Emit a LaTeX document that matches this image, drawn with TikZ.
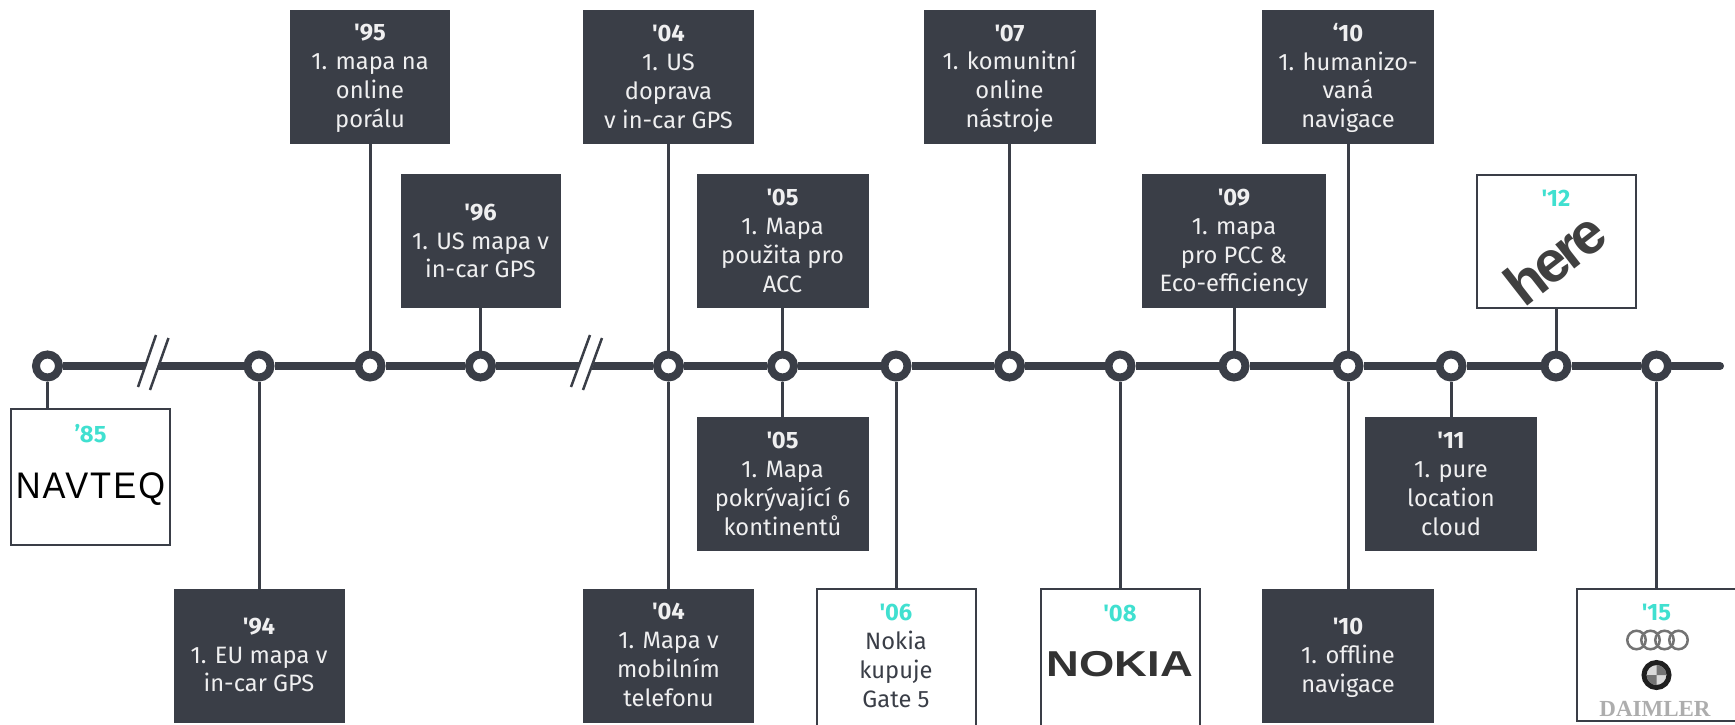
\documentclass[tikz,border=0pt]{standalone}
\usepackage{fontspec}
\setmainfont{Fira Sans}[Ligatures=TeXOff]
\newfontfamily\logosans{Liberation Sans}
\newfontfamily\logoserif{Liberation Serif}
\definecolor{slate}{HTML}{3A3E47}
\definecolor{teal}{HTML}{40E0D0}
\tikzset{
    stop/.style={circle, draw=slate, fill=white, line width=8pt, minimum size=23pt, inner sep=0pt},
    darkbox/.style={fill=slate, text=white!92!slate, align=center, inner sep=0pt, minimum width=160pt, minimum height=134pt, font=\fontsize{23.7}{28.8}\selectfont},
    logobox/.style={draw=slate, line width=2pt, fill=white, align=center, inner sep=0pt, minimum width=159pt, minimum height=135pt},
    yearlabel/.style={text=teal, inner sep=0pt, font=\bfseries\fontsize{23.7}{28.8}\selectfont},
    audiring/.style={circle, draw=black!55, line width=2.5pt, minimum size=18.5pt, inner sep=0pt},
    axisline/.style={draw=slate, line width=8pt},
    linkline/.style={draw=slate, line width=3pt},
    breakline/.style={draw=slate, line width=2.5pt}
}
\begin{document}
\begin{tikzpicture}[x=1pt, y=-1pt]
    \useasboundingbox (0,0) rectangle (1735,724);

    % Stops on the time line
    \node[stop] (p85) at (47.5,366) {};
    \node[stop] (p94) at (259,366) {};
    \node[stop] (p95) at (370,366) {};
    \node[stop] (p96) at (480.5,366) {};
    \node[stop] (p04) at (668.5,366) {};
    \node[stop] (p05) at (782.5,366) {};
    \node[stop] (p06) at (896,366) {};
    \node[stop] (p07) at (1009.5,366) {};
    \node[stop] (p08) at (1120,366) {};
    \node[stop] (p09) at (1234,366) {};
    \node[stop] (p10) at (1348,366) {};
    \node[stop] (p11) at (1451,366) {};
    \node[stop] (p12) at (1556,366) {};
    \node[stop] (p15) at (1656.5,366) {};
    \coordinate (lineend) at (1720,366);

    % Time line between the stops
    \draw[axisline] (p85) -- (p94) -- (p95) -- (p96) -- (p04) -- (p05) -- (p06) -- (p07)
        -- (p08) -- (p09) -- (p10) -- (p11) -- (p12) -- (p15);
    \draw[axisline, line cap=round] (p15) -- (lineend);

    % Breaks in the time line
    \fill[white] (156,337) -- (168.5,341) -- (150,392) -- (138,388) -- cycle;
    \draw[breakline] (168.5,338) -- (150,390);
    \draw[breakline] (156,335) -- (138,387);
    \fill[white] (590,337) -- (602,341) -- (583,392) -- (571,388) -- cycle;
    \draw[breakline] (602,338) -- (583,390);
    \draw[breakline] (590,335) -- (571,387);

    % Boxes above the line
    \node[darkbox] (b95) at (370,77) {};
    \node[darkbox, fill=none, minimum height=0pt] (t95) at (370,78.5) {\textbf{'95}\\1. mapa na\\online\\porálu};
    \node[darkbox, minimum width=171.5pt] (b04a) at (668.5,77) {\textbf{'04}\\1. US\\doprava\\v in-car GPS};
    \node[darkbox, minimum width=172pt] (b07) at (1009.5,77) {};
    \node[darkbox, fill=none, minimum height=0pt] (t07) at (1009.5,78.5) {\textbf{'07}\\1. komunitní\\online\\nástroje};
    \node[darkbox, minimum width=172pt] (b10a) at (1348,77) {};
    \node[darkbox, fill=none, minimum height=0pt] (t10a) at (1348,78) {\textbf{‘10}\\1. humanizo-\\vaná\\navigace};
    \node[darkbox] (b96) at (480.5,241) {\textbf{'96}\\1. US mapa v\\in-car GPS};
    \node[darkbox, minimum width=172pt] (b05a) at (782.5,241) {\textbf{'05}\\1. Mapa\\použita pro\\ACC};
    \node[darkbox, minimum width=184pt] (b09) at (1234,241) {};
    \node[darkbox, fill=none, minimum height=0pt] (t09) at (1234,243) {\textbf{'09}\\1. mapa\\pro PCC \&\\Eco-efficiency};

    % Boxes below the line
    \node[darkbox, minimum width=172pt] (b05b) at (782.5,484) {\textbf{'05}\\1. Mapa\\pokrývající 6\\kontinentů};
    \node[darkbox, minimum width=172pt] (b11) at (1451,484) {\textbf{'11}\\1. pure\\location\\cloud};
    \node[darkbox, minimum width=171pt] (b94) at (259,656) {};
    \node[darkbox, fill=none, minimum height=0pt] (t94) at (259,655) {\textbf{'94}\\1. EU mapa v\\in-car GPS};
    \node[darkbox, minimum width=171.5pt] (b04b) at (668.5,656) {};
    \node[darkbox, fill=none, minimum height=0pt] (t04b) at (668.5,655) {\textbf{'04}\\1. Mapa v\\mobilním\\telefonu};
    \node[darkbox, minimum width=172pt] (b10b) at (1348,656) {};
    \node[darkbox, fill=none, minimum height=0pt] (t10b) at (1348,657.5) {\textbf{'10}\\1. offline\\navigace};

    % Boxes with logos
    \node[logobox, minimum height=136pt] (b85) at (90.5,477) {};
    \node[yearlabel] (y85) at (90.5,434) {’85};
    \node[font=\logosans\fontsize{37}{37}\selectfont, text=black, inner sep=0pt] (navteq) at (90.5,489) {\scalebox{0.93}[1]{\addfontfeatures{LetterSpace=6}NAVTEQ}};

    \node[logobox, minimum height=133pt] (b12) at (1556,241) {};
    \node[yearlabel] (y12) at (1556,198) {'12};
    \node[font=\logosans\bfseries\fontsize{58}{58}\selectfont, text=black!75, inner sep=0pt, rotate=38] (here) at (1555,258) {\addfontfeatures{LetterSpace=-7}here};

    \node[logobox, minimum height=140pt] (b06) at (896,659) {};
    \node[align=center, text=slate, inner sep=0pt, font=\fontsize{23.7}{28.8}\selectfont] (t06) at (896,656)
        {\textcolor{teal}{\textbf{'06}}\\Nokia\\kupuje\\Gate 5};

    \node[logobox, minimum height=140pt] (b08) at (1120,659) {};
    \node[yearlabel] (y08) at (1120,613) {'08};
    \node[font=\logosans\bfseries\fontsize{36}{36}\selectfont, text=black!80, inner sep=0pt] (nokia) at (1120,664) {\scalebox{1.26}[1]{NOKIA}};

    \node[logobox, minimum height=132pt] (b15) at (1656.5,655) {};
    \node[yearlabel] (y15) at (1656.5,612) {'15};
    \node[audiring] (ring1) at (1636.5,640) {};
    \node[audiring] (ring2) at (1650.5,640) {};
    \node[audiring] (ring3) at (1664.5,640) {};
    \node[audiring] (ring4) at (1678.5,640) {};
    \node[circle, draw=black!88, line width=5pt, fill=black!15, minimum size=25pt, inner sep=0pt] (bmw) at (1656.5,675) {};
    \fill[black!55] (bmw.center) -- +(-10,0) arc[start angle=180, end angle=90, radius=10] -- cycle;
    \fill[black!55] (bmw.center) -- +(10,0) arc[start angle=0, end angle=-90, radius=10] -- cycle;
    \node[font=\logoserif\bfseries\fontsize{23}{23}\selectfont, text=black!32, inner sep=0pt] (daimler) at (1655,709) {DAIMLER};

    % Links from the stops to the boxes
    \draw[linkline] (p95) -- (b95);
    \draw[linkline] (p96) -- (b96);
    \draw[linkline] (p04) -- (b04a);
    \draw[linkline] (p04) -- (b04b);
    \draw[linkline] (p05) -- (b05a);
    \draw[linkline] (p05) -- (b05b);
    \draw[linkline] (p07) -- (b07);
    \draw[linkline] (p09) -- (b09);
    \draw[linkline] (p10) -- (b10a);
    \draw[linkline] (p10) -- (b10b);
    \draw[linkline] (p11) -- (b11);
    \draw[linkline] (p94) -- (b94);
    \draw[linkline] (p85) -- (p85 |- b85.north);
    \draw[linkline] (p06) -- (b06);
    \draw[linkline] (p08) -- (b08);
    \draw[linkline] (p12) -- (b12);
    \draw[linkline] (p15) -- (b15);
\end{tikzpicture}
\end{document}
